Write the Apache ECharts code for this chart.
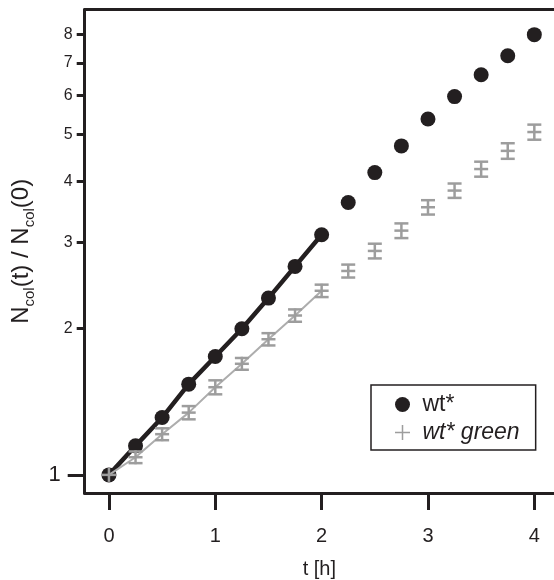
<!DOCTYPE html>
<html><head><meta charset="utf-8">
<script src="https://cdn.jsdelivr.net/npm/echarts@6/dist/echarts.min.js"></script>
<style>html,body{margin:0;padding:0;background:#fff}#c{width:554px;height:580px}</style>
</head><body><div id="c"></div>
<script>
// ---- data ----
const times = [0, 0.25, 0.5, 0.75, 1, 1.25, 1.5, 1.75, 2, 2.25, 2.5, 2.75, 3, 3.25, 3.5, 3.75, 4];
const wtValues = [1.00, 1.147, 1.311, 1.535, 1.749, 1.994, 2.305, 2.677, 3.108, 3.62, 4.17, 4.73, 5.37, 5.97, 6.62, 7.24, 8.00];
const greenValues = [1.00, 1.087, 1.212, 1.342, 1.513, 1.690, 1.898, 2.123, 2.386, 2.62, 2.88, 3.17, 3.54, 3.83, 4.24, 4.62, 5.05];
const greenErrors = [0, 0.03, 0.034, 0.042, 0.05, 0.047, 0.055, 0.062, 0.07, 0.08, 0.10, 0.11, 0.12, 0.13, 0.15, 0.17, 0.18];
const fitCount = 9; // lines drawn through t = 0 .. 2 h
const xTickValues = [0, 1, 2, 3, 4];
const yMajorTicks = [1];
const yMinorTicks = [2, 3, 4, 5, 6, 7, 8];
const seriesNames = ['wt*', 'wt* green'];
const xTitle = 't [h]';

// ---- styles ----
const INK = '#231f20';
const GRAY = '#9d9d9d';
const GRAY_LINE = '#adadad';
const FONT = 'Liberation Sans, Arial, sans-serif';

const wtPoints = times.map((t, i) => [t, wtValues[i]]);
const greenPoints = times.map((t, i) => [t, greenValues[i], greenErrors[i]]);
const wtFit = wtPoints.slice(0, fitCount);
const greenFit = greenPoints.slice(0, fitCount).map(p => [p[0], p[1]]);

const X_MIN = -0.228, X_MAX = 4.185;
const Y_MIN = 0.918, Y_MAX = 9.0;

const chart = echarts.init(document.getElementById('c'), null, {renderer: 'canvas'});

const yBase = {
  type: 'log', logBase: 10, min: Y_MIN, max: Y_MAX, position: 'left',
  axisLine: {show: true, onZero: false, lineStyle: {color: INK, width: 3}},
  splitLine: {show: false}, minorTick: {show: false}
};

chart.setOption({
  animation: false,
  backgroundColor: '#fff',
  textStyle: {fontFamily: FONT},
  grid: {left: 84.7, top: 9.7, right: 0, bottom: 87, containLabel: false, outerBoundsMode: 'none'},
  legend: {
    orient: 'vertical', left: 371, top: 385,
    padding: [8, 16, 6, 24],
    borderColor: INK, borderWidth: 1.5, borderRadius: 0,
    itemWidth: 30, itemHeight: 15, itemGap: 5,
    textStyle: {fontSize: 23, color: INK, fontFamily: FONT},
    data: [
      {name: seriesNames[0], icon: 'circle'},
      {name: seriesNames[1], icon: 'path://M9,0h2v9h9v2h-9v9h-2v-9h-9v-2h9z', textStyle: {fontStyle: 'italic'}}
    ]
  },
  xAxis: [{
    type: 'value', min: X_MIN, max: X_MAX, position: 'bottom',
    name: xTitle, nameLocation: 'middle', nameGap: 66,
    nameTextStyle: {fontSize: 20, color: INK, fontFamily: FONT},
    axisLine: {show: true, onZero: false, lineStyle: {color: INK, width: 3}},
    axisTick: {show: true, length: 17, inside: false, lineStyle: {color: INK, width: 3}, customValues: xTickValues},
    axisLabel: {fontSize: 20, color: INK, margin: 33, customValues: xTickValues, formatter: v => String(v)},
    splitLine: {show: false}
  }, {
    type: 'value', min: X_MIN, max: X_MAX, position: 'top',
    axisLine: {show: true, onZero: false, lineStyle: {color: INK, width: 3}},
    axisTick: {show: false}, axisLabel: {show: false}, splitLine: {show: false}
  }],
  yAxis: [Object.assign({}, yBase, {
    name: '{n|N}{s|col}{n|(t) / N}{s|col}{n|(0)}',
    nameLocation: 'middle', nameGap: 39, nameRotate: 90,
    nameTextStyle: {
      color: INK, fontFamily: FONT,
      rich: {
        n: {fontSize: 24, color: INK, fontFamily: FONT, verticalAlign: 'bottom', padding: [0, 0, 4, 0]},
        s: {fontSize: 15, color: INK, fontFamily: FONT, verticalAlign: 'bottom'}
      }
    },
    axisTick: {show: true, length: 17, lineStyle: {color: INK, width: 3}, customValues: yMajorTicks},
    axisLabel: {fontSize: 22, color: INK, margin: 24, customValues: yMajorTicks, formatter: v => String(Math.round(v))}
  }), Object.assign({}, yBase, {
    axisTick: {show: true, length: 8, lineStyle: {color: INK, width: 3}, customValues: yMinorTicks},
    axisLabel: {fontSize: 16, color: INK, margin: 12, customValues: yMinorTicks, formatter: v => String(Math.round(v))}
  })],
  series: [
    {
      name: 'wt* fit', type: 'line', data: wtFit, xAxisIndex: 0, yAxisIndex: 0,
      showSymbol: false, symbol: 'none', lineStyle: {color: INK, width: 4.5}, z: 2, silent: true
    },
    {
      name: seriesNames[0], type: 'scatter', data: wtPoints, xAxisIndex: 0, yAxisIndex: 0,
      symbol: 'circle', symbolSize: 15, itemStyle: {color: INK, opacity: 1}, z: 3
    },
    {
      name: 'wt* green fit', type: 'line', data: greenFit, xAxisIndex: 0, yAxisIndex: 0,
      showSymbol: false, symbol: 'none', lineStyle: {color: GRAY_LINE, width: 2}, z: 4, silent: true
    },
    {
      name: seriesNames[1], type: 'custom', data: greenPoints, xAxisIndex: 0, yAxisIndex: 0,
      itemStyle: {color: GRAY}, z: 5,
      encode: {x: 0, y: 1},
      renderItem: function (params, api) {
        const t = api.value(0), v = api.value(1), e = api.value(2);
        const c = api.coord([t, v]);
        const hw = 7, hh = 7;
        const st = {stroke: GRAY, lineWidth: 2.5, fill: null};
        const children = [];
        let top = c[1] - hh, bot = c[1] + hh;
        if (e > 0) {
          const yt = api.coord([t, v + e])[1];
          const yb = api.coord([t, v - e])[1];
          children.push({type: 'line', shape: {x1: c[0] - hw, y1: yt, x2: c[0] + hw, y2: yt}, style: st});
          children.push({type: 'line', shape: {x1: c[0] - hw, y1: yb, x2: c[0] + hw, y2: yb}, style: st});
          top = Math.min(top, yt); bot = Math.max(bot, yb);
        }
        children.push({type: 'line', shape: {x1: c[0], y1: top, x2: c[0], y2: bot}, style: st});
        children.push({type: 'line', shape: {x1: c[0] - hw, y1: c[1], x2: c[0] + hw, y2: c[1]}, style: st});
        return {type: 'group', children: children};
      }
    }
  ]
});
</script>
</body></html>
